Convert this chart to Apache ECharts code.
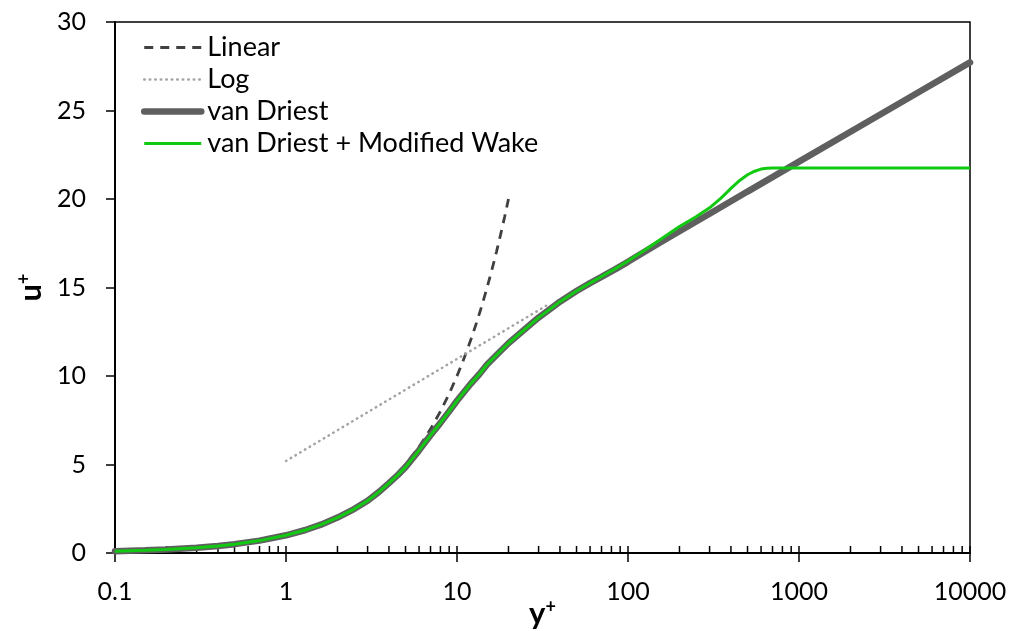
<!DOCTYPE html>
<html>
<head>
<meta charset="utf-8">
<script src="https://cdn.jsdelivr.net/npm/echarts@6/dist/echarts.min.js"></script>
<style>
  html,body{margin:0;padding:0;background:#fff;}
  #chart{width:1013px;height:631px;}
</style>
</head>
<body>
<div id="chart"></div>
<script>
// values
const linX = [0.1, 0.2, 0.5, 1, 2, 3, 4, 5, 6, 7, 8, 9, 10, 11, 12, 13, 14, 15, 16, 17, 18, 19, 20];
const linY = [0.1, 0.2, 0.5, 1, 2, 3, 4, 5, 6, 7, 8, 9, 10, 11, 12, 13, 14, 15, 16, 17, 18, 19, 20];

const logX = [1, 35];
const logY = [5.2, 14.1];

const vdX = [0.1, 0.15, 0.2, 0.3, 0.4, 0.5, 0.7, 1, 1.3, 1.6, 2, 2.5, 3, 3.5, 4, 4.5, 5, 6, 7, 8, 9, 10, 11, 12, 13.5, 15, 17.5, 20, 25, 30, 35, 40, 50, 60, 70, 85, 100, 150, 200, 300, 500, 1000, 2000, 5000, 10000];
const vdY = [0.1, 0.15, 0.2, 0.3, 0.4, 0.5, 0.7, 1.0, 1.3, 1.6, 2.0, 2.48, 2.95, 3.45, 3.95, 4.4, 4.85, 5.8, 6.65, 7.35, 8.0, 8.6, 9.1, 9.55, 10.1, 10.65, 11.3, 11.85, 12.65, 13.3, 13.78, 14.2, 14.8, 15.25, 15.6, 16.05, 16.45, 17.48, 18.18, 19.17, 20.42, 22.11, 23.8, 26.03, 27.72];

const wakeX = [0.1, 0.15, 0.2, 0.3, 0.4, 0.5, 0.7, 1, 1.3, 1.6, 2, 2.5, 3, 3.5, 4, 4.5, 5, 6, 7, 8, 9, 10, 11, 12, 13.5, 15, 17.5, 20, 25, 30, 35, 40, 50, 60, 70, 85, 100, 125, 150, 200, 250, 300, 350, 400, 450, 500, 550, 600, 650, 700, 1000, 10000];
const wakeY = [0.1, 0.15, 0.2, 0.3, 0.4, 0.5, 0.7, 1.0, 1.3, 1.6, 2.0, 2.48, 2.95, 3.45, 3.95, 4.4, 4.85, 5.8, 6.65, 7.35, 8.0, 8.6, 9.1, 9.55, 10.1, 10.65, 11.3, 11.85, 12.65, 13.3, 13.78, 14.2, 14.8, 15.25, 15.62, 16.08, 16.5, 17.1, 17.63, 18.45, 19.0, 19.5, 20.05, 20.6, 21.05, 21.37, 21.57, 21.69, 21.74, 21.75, 21.75, 21.75];

const xDecades = [0.1, 1, 10, 100, 1000];
const xMinorMult = [1, 2, 3, 4, 5, 6, 7, 8, 9];
const yTicks = [0, 5, 10, 15, 20, 25, 30];

const zip = (xs, ys) => xs.map((x, i) => [x, ys[i]]);

// tick marks drawn upward inside the plot
let innerTicks = [];
xDecades.forEach(d => xMinorMult.forEach(m => innerTicks.push([d * m, 0])));
innerTicks.push([10000, 0]);

const font = 'Lato';
const chart = echarts.init(document.getElementById('chart'));

const linStyle = { color: '#404040', width: 2.8, type: [9, 7] };
const logStyle = { color: '#a3a3a3', width: 2.5, type: [0.5, 5], cap: 'round' };
const vdStyle = { color: '#5f5f5f', width: 6.5, cap: 'round' };
const wakeStyle = { color: '#12c912', width: 3 };

const nameRich = {
  a: { fontSize: 31, fontWeight: 'bold', fontFamily: font, color: '#000', lineHeight: 32 },
  b: { fontSize: 18, fontWeight: 'bold', fontFamily: font, color: '#000', verticalAlign: 'top', lineHeight: 32 }
};

chart.setOption({
  animation: false,
  textStyle: { fontFamily: font, color: '#000' },
  grid: {
    left: 115, right: 43, top: 22, bottom: 78,
    show: true, borderColor: '#000', borderWidth: 1.5,
    outerBoundsMode: 'none'
  },
  legend: {
    orient: 'vertical',
    left: 141, top: 34, padding: 0,
    itemWidth: 57, itemHeight: 14, itemGap: 5,
    itemStyle: { opacity: 0 },
    textStyle: { fontSize: 27, fontFamily: font, color: '#000', padding: [0, 0, 0, 1] },
    data: [
      { name: 'Linear', lineStyle: linStyle },
      { name: 'Log', lineStyle: logStyle },
      { name: 'van Driest', lineStyle: vdStyle },
      { name: 'van Driest + Modified Wake', lineStyle: wakeStyle }
    ]
  },
  xAxis: {
    type: 'log', logBase: 10, min: 0.1, max: 10000,
    name: '{a|y}{b|+}',
    nameLocation: 'middle', nameGap: 45, nameMoveOverlap: false,
    nameTextStyle: { rich: nameRich },
    axisLine: { show: true, lineStyle: { color: '#000', width: 2 } },
    axisTick: { show: true, inside: false, length: 9, lineStyle: { color: '#000', width: 1.5 } },
    axisLabel: {
      fontSize: 25, color: '#000', fontFamily: font, margin: 26,
      formatter: v => String(+v.toPrecision(6))
    },
    splitLine: { show: false },
    minorTick: { show: false }
  },
  yAxis: {
    type: 'value', min: 0, max: 30, interval: 5,
    name: '{a|u}{b|+}',
    nameLocation: 'middle', nameGap: 68, nameRotate: 90, nameMoveOverlap: false,
    nameTextStyle: { rich: nameRich },
    axisLine: { show: true, lineStyle: { color: '#000', width: 2 } },
    axisTick: { show: true, inside: false, length: 9, lineStyle: { color: '#000', width: 1.5 } },
    axisLabel: {
      fontSize: 25, color: '#000', fontFamily: font, margin: 29,
      formatter: v => yTicks.indexOf(v) >= 0 ? String(v) : ''
    },
    splitLine: { show: false }
  },
  series: [
    {
      name: 'ticks', type: 'custom', silent: true, clip: false, z: 1,
      data: innerTicks,
      encode: { x: 0, y: 1 },
      renderItem: (params, api) => {
        const p = api.coord([api.value(0), api.value(1)]);
        return {
          type: 'line',
          shape: { x1: p[0], y1: p[1], x2: p[0], y2: p[1] - 7 },
          style: { stroke: '#000', lineWidth: 1.5 }
        };
      }
    },
    {
      name: 'Linear', type: 'line', symbol: 'none',
      data: zip(linX, linY),
      lineStyle: linStyle, itemStyle: { color: '#404040' }, z: 2
    },
    {
      name: 'Log', type: 'line', symbol: 'none',
      data: zip(logX, logY),
      lineStyle: logStyle, itemStyle: { color: '#a3a3a3' }, z: 2
    },
    {
      name: 'van Driest', type: 'line', symbol: 'none',
      data: zip(vdX, vdY),
      lineStyle: vdStyle, itemStyle: { color: '#5f5f5f' }, z: 3
    },
    {
      name: 'van Driest + Modified Wake', type: 'line', symbol: 'none',
      data: zip(wakeX, wakeY),
      lineStyle: wakeStyle, itemStyle: { color: '#12c912' }, z: 4
    }
  ]
});
</script>
</body>
</html>
